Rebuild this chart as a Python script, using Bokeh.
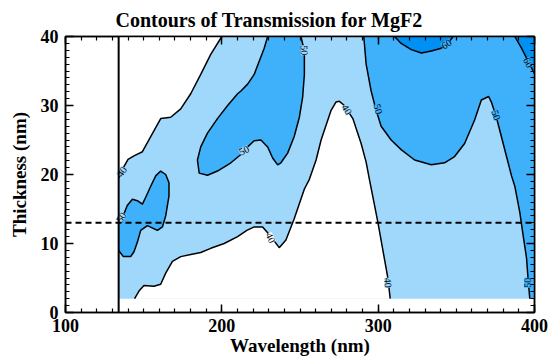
from bokeh.plotting import figure
from bokeh.models import SingleIntervalTicker, LinearAxis, Span, ColumnDataSource
from bokeh.core.properties import value
from bokeh.embed import file_html
from bokeh.resources import INLINE

# ---------------- data ----------------
TITLE = "Contours of Transmission for MgF2"
X_LABEL = "Wavelength (nm)"
Y_LABEL = "Thickness (nm)"
X_RANGE = (100, 400)
Y_RANGE = (0, 40)

# extent of the computed transmission grid
WL_MIN, WL_MAX = 134, 400
TH_MIN, TH_MAX = 2, 40

# reference lines
VERT_LINE_WL = 134
HORIZ_LINE_TH = 13

# 40% contour, upper-left branch (white above/left)
c40_upper_x = [134, 136.3, 140.0, 143.8, 149.2, 154.5, 160.9, 167.3, 173.7, 180.1, 186.5, 192.9, 200.0]
c40_upper_y = [19.5, 20.7, 22.2, 22.7, 23.3, 25.5, 28.1, 28.3, 29.5, 31.7, 34.5, 37.4, 40.0]

# 40% contour, lower branch (white below)
c40_lower_x = [144.2, 147.0, 150.2, 156.6, 160.9, 164.1, 168.4, 173.7, 180.1, 186.5, 192.9, 201.5,
               210.1, 216.0, 220.7, 226.1, 231.4, 236.7, 241.0, 246.3, 252.8, 256.0, 260.3, 263.5,
               269.9, 273.0, 275.2, 278.4, 283.8, 289.1, 292.3, 294.4, 299.8, 306.2, 307.7]
c40_lower_y = [2.0, 3.1, 3.9, 3.8, 4.1, 5.7, 7.4, 8.1, 8.4, 8.7, 9.3, 10.0,
               11.0, 11.9, 12.4, 12.4, 11.0, 9.4, 10.5, 13.6, 17.9, 19.3, 22.1, 25.0,
               29.3, 30.5, 30.6, 30.0, 28.1, 24.5, 21.8, 19.3, 13.1, 5.0, 2.0]

# 50% contour, diagonal blob (region A, open at the top)
c50_a_x = [229.3, 227.1, 223.9, 220.7, 216.5, 212.2, 210.1, 203.7, 197.2, 190.8, 186.5, 184.4,
           185.5, 190.8, 197.2, 205.8, 212.2, 216.5, 220.7, 225.0, 229.3, 232.5, 235.7, 237.8,
           242.1, 246.3, 249.6, 251.7, 252.8, 252.8, 250.6]
c50_a_y = [40.0, 38.3, 36.4, 34.5, 33.1, 32.1, 31.7, 30.0, 28.1, 26.0, 24.0, 22.1,
           20.2, 19.9, 20.5, 21.7, 22.9, 24.0, 24.9, 25.0, 24.0, 22.4, 21.4, 21.7,
           23.1, 25.5, 28.3, 31.2, 34.5, 37.9, 40.0]

# 50% contour, right region (region B, open at top/right/bottom)
c50_b_x = [290.8, 292.3, 295.5, 298.7, 301.9, 308.3, 314.7, 323.3, 334.0, 342.5, 348.9, 355.3,
           361.7, 366.0, 370.7, 372.4, 375.6, 378.8, 382.1, 385.3, 387.4, 390.6, 392.7, 394.9,
           396.0, 397.0]
c50_b_y = [40.0, 36.0, 32.1, 29.3, 27.0, 25.0, 23.6, 22.1, 21.4, 21.7, 22.6, 24.5,
           27.9, 30.8, 31.3, 30.5, 28.3, 25.5, 22.6, 19.8, 18.3, 14.5, 11.2, 7.9,
           4.5, 2.0]

# 50% contour, small blob near the left edge (region C)
c50_c_x = [134.0, 137.0, 141.7, 143.8, 146.0, 148.1, 152.4, 158.8, 162.0, 164.1, 166.2, 166.2,
           164.1, 160.9, 157.7, 154.5, 151.3, 149.2, 146.0, 142.8, 139.5, 137.4, 134.0]
c50_c_y = [9.0, 8.1, 8.1, 8.8, 10.2, 11.9, 12.6, 11.9, 12.4, 14.0, 16.9, 18.8,
           20.0, 20.5, 19.8, 18.3, 16.7, 15.7, 16.2, 16.4, 15.5, 14.3, 13.1]

# 60% contours (top)
c60_a_x = [310.5, 314.7, 321.2, 327.6, 334.0, 340.4, 345.7, 347.9]
c60_a_y = [40.0, 39.0, 38.1, 37.6, 37.9, 38.3, 39.3, 40.0]
c60_b_x = [387.4, 391.7, 396.0, 399.1, 400.0]
c60_b_y = [40.0, 38.3, 36.4, 35.0, 34.6]

# contour labels
lab_text = ["40", "50", "50", "50", "40", "50", "60", "60", "50", "40", "40", "50"]
lab_x = [136.0, 135.6, 214.2, 252.8, 280.0, 300.0, 343.6, 396.0, 375.4, 231.2, 306.3, 395.6]
lab_y = [20.4, 13.8, 23.5, 38.0, 29.4, 29.5, 38.9, 36.2, 28.6, 10.8, 4.3, 4.3]
lab_angle = [1.0, 1.0, 0.5, -1.57, -1.0, -1.3, 0.55, -1.1, -1.25, -1.1, -1.5, 1.57]

# colours
COL_40 = "#a0d8fc"
COL_50 = "#3fb0fa"
COL_60 = "#0090f4"
lab_bg = [COL_40, COL_40, COL_40, COL_40, COL_40, COL_50, COL_50, COL_50, COL_50, "white", COL_40, COL_50]

# ---------------- figure ----------------
SERIF = "Liberation Serif"

p = figure(width=549, height=358, x_range=X_RANGE, y_range=Y_RANGE,
           output_backend="svg", toolbar_location=None,
           min_border_left=65, min_border_right=15, min_border_top=35, min_border_bottom=43)

p.title.text = TITLE
p.title.text_font = SERIF
p.title.text_font_style = "bold"
p.title.text_font_size = "20px"
p.title.text_color = "black"
p.title.align = "left"
p.title.offset = 50
p.title.standoff = 12

p.xgrid.visible = False
p.ygrid.visible = False
p.outline_line_color = "black"
p.outline_line_width = 1.5
p.background_fill_color = "white"

# filled regions (level >= 40 base, then holes, then higher levels)
p.quad(left=[WL_MIN], right=[WL_MAX], bottom=[TH_MIN], top=[TH_MAX],
       fill_color=COL_40, line_color=None)

hole_up_x = c40_upper_x + [WL_MIN]
hole_up_y = c40_upper_y + [TH_MAX]
p.patches(xs=[hole_up_x, c40_lower_x], ys=[hole_up_y, c40_lower_y],
          fill_color="white", line_color=None)

b_x = c50_b_x + [WL_MAX, WL_MAX]
b_y = c50_b_y + [TH_MIN, TH_MAX]
p.patches(xs=[c50_a_x, b_x, c50_c_x], ys=[c50_a_y, b_y, c50_c_y],
          fill_color=COL_50, line_color=None)

d2_x = c60_b_x + [WL_MAX]
d2_y = c60_b_y + [TH_MAX]
p.patches(xs=[c60_a_x, d2_x], ys=[c60_a_y, d2_y], fill_color=COL_60, line_color=None)

# contour lines
p.multi_line(xs=[c40_upper_x, c40_lower_x, c50_a_x, c50_b_x, c50_c_x, c60_a_x, c60_b_x],
             ys=[c40_upper_y, c40_lower_y, c50_a_y, c50_b_y, c50_c_y, c60_a_y, c60_b_y],
             line_color="black", line_width=1.5)

# contour labels
lab_src = ColumnDataSource(dict(x=lab_x, y=lab_y, text=lab_text, angle=lab_angle, bg=lab_bg))
p.text(x="x", y="y", text="text", angle="angle", source=lab_src,
       text_font=value(SERIF), text_font_size="10px", text_color="black",
       text_align="center", text_baseline="middle",
       background_fill_color="bg")

# reference lines
p.add_layout(Span(location=VERT_LINE_WL, dimension="height", line_color="black", line_width=2))
p.add_layout(Span(location=HORIZ_LINE_TH, dimension="width", line_color="black",
                  line_width=2, line_dash="6 4"))

# axes
def style_axis(ax, interval, show_labels=True):
    ax.ticker = SingleIntervalTicker(interval=interval, num_minor_ticks=10)
    ax.major_tick_in = 8
    ax.major_tick_out = 0
    ax.minor_tick_in = 4
    ax.minor_tick_out = 0
    ax.axis_line_color = "black"
    ax.axis_line_width = 1.5
    ax.major_tick_line_width = 1.5
    ax.minor_tick_line_width = 1.2
    ax.major_tick_line_color = "black"
    ax.minor_tick_line_color = "black"
    if show_labels:
        ax.major_label_text_font = SERIF
        ax.major_label_text_font_style = "bold"
        ax.major_label_text_font_size = "18px"
        ax.major_label_text_color = "black"
        ax.axis_label_text_font = SERIF
        ax.axis_label_text_font_style = "bold"
        ax.axis_label_text_font_size = "19px"
        ax.axis_label_text_color = "black"
    else:
        ax.major_label_text_font_size = "0px"
        ax.major_label_text_color = None
        ax.major_label_standoff = 0

xa = p.xaxis[0]
ya = p.yaxis[0]
style_axis(xa, 100)
style_axis(ya, 10)
xa.axis_label = X_LABEL
ya.axis_label = Y_LABEL
xa.major_label_standoff = 6
xa.axis_label_standoff = 0
ya.major_label_standoff = 7
ya.axis_label_standoff = 8

top_ax = LinearAxis()
right_ax = LinearAxis()
style_axis(top_ax, 100, show_labels=False)
style_axis(right_ax, 10, show_labels=False)
p.add_layout(top_ax, "above")
p.add_layout(right_ax, "right")

open("out.html", "w").write(file_html(p, INLINE))
